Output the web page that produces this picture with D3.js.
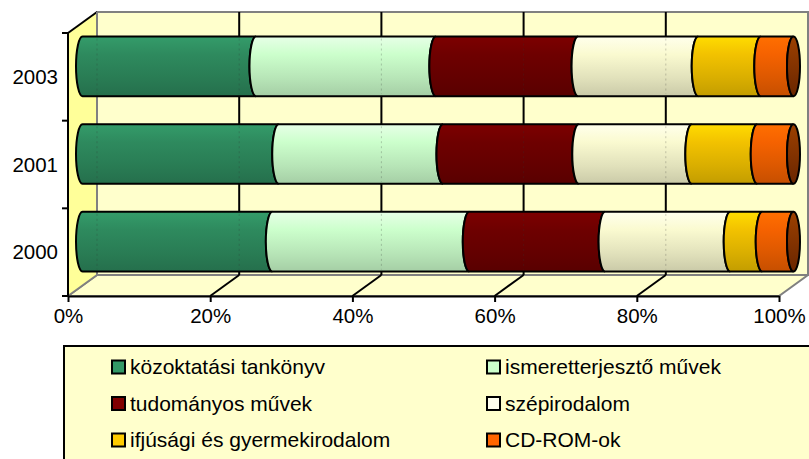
<!DOCTYPE html>
<html>
<head>
<meta charset="utf-8">
<script src="https://cdn.jsdelivr.net/npm/d3@7"></script>
<style>
  body { margin: 0; background: #fff; }
  text { font-family: "Liberation Sans", Arial, sans-serif; }
</style>
</head>
<body>
<div id="chart"></div>
<script>
// data (shares in %)
var years = ["2003", "2001", "2000"];
var series = ["közoktatási tankönyv", "ismeretterjesztő művek", "tudományos művek",
              "szépirodalom", "ifjúsági és gyermekirodalom", "CD-ROM-ok"];
var v2003 = [24.4, 25.3, 20.0, 16.9, 8.8, 4.6];
var v2001 = [27.6, 23.1, 19.1, 15.9, 9.2, 5.1];
var v2000 = [26.7, 27.7, 19.1, 17.6, 4.5, 4.4];
var tickValues = [0, 0.2, 0.4, 0.6, 0.8, 1];

var swatchColors = ["#339966", "#ccffcc", "#800000", "#ffffee", "#ffcc00", "#ff6600"];
var barColors = ["#2e8a5e", "#ccffcc", "#6e0000", "#fafad0", "#f2c200", "#f56200"];

var width = 809, height = 459;
var dx = 29, dy = -21; // depth of the 3d box

var svg = d3.select("#chart").append("svg")
    .attr("width", width)
    .attr("height", height);

var defs = svg.append("defs");

var x = d3.scaleLinear().domain([0, 1]).range([68, 779]);
var y = d3.scaleBand().domain(years).range([33, 296]);
var xb = function(v) { return x(v) + dx; };
var xm = function(v) { return x(v) + dx / 2; };

var rows = years.map(function(yr, i) {
    var vals = [v2003, v2001, v2000][i];
    var r = { year: yr };
    series.forEach(function(s, j) { r[s] = vals[j] / 100; });
    return r;
});
var stacked = d3.stack().keys(series)(rows);

// gradients for the cylinders
barColors.forEach(function(c, i) {
    var g = defs.append("linearGradient").attr("id", "grad" + i)
        .attr("x1", 0).attr("y1", 0).attr("x2", 0).attr("y2", 1);
    var base = d3.color(c);
    g.append("stop").attr("offset", "0%").attr("stop-color", base.brighter(0.35));
    g.append("stop").attr("offset", "30%").attr("stop-color", base);
    g.append("stop").attr("offset", "70%").attr("stop-color", base.darker(0.3));
    g.append("stop").attr("offset", "100%").attr("stop-color", base.darker(0.6));
});
var capGrad = defs.append("linearGradient").attr("id", "capgrad")
    .attr("x1", 0).attr("y1", 0).attr("x2", 0).attr("y2", 1);
capGrad.append("stop").attr("offset", "0%").attr("stop-color", "#9c4000");
capGrad.append("stop").attr("offset", "100%").attr("stop-color", "#6a2600");

var top0 = y.range()[0], bot0 = y.range()[1];

// back wall
svg.append("rect")
    .attr("x", xb(0)).attr("y", top0 + dy)
    .attr("width", xb(1) - xb(0)).attr("height", bot0 - top0)
    .attr("fill", "#ffffcc")
    .attr("stroke", "#808080").attr("stroke-width", 2);

// floor
svg.append("path")
    .attr("d", "M" + x(0) + "," + bot0 + "L" + x(1) + "," + bot0 +
        "L" + xb(1) + "," + (bot0 + dy) + "L" + xb(0) + "," + (bot0 + dy) + "Z")
    .attr("fill", "#ffffcc")
    .attr("stroke", "#808080").attr("stroke-width", 2);

// left wall
svg.append("path")
    .attr("d", "M" + x(0) + "," + top0 + "L" + xb(0) + "," + (top0 + dy) +
        "L" + xb(0) + "," + (bot0 + dy) + "L" + x(0) + "," + bot0 + "Z")
    .attr("fill", "#ffff99")
    .attr("stroke", "none");
svg.append("line")
    .attr("x1", x(0)).attr("y1", top0).attr("x2", xb(0)).attr("y2", top0 + dy)
    .attr("stroke", "#000").attr("stroke-width", 2);
svg.append("line")
    .attr("x1", xb(0)).attr("y1", top0 + dy).attr("x2", xb(0)).attr("y2", bot0 + dy)
    .attr("stroke", "#808080").attr("stroke-width", 2);
svg.append("line")
    .attr("x1", x(0)).attr("y1", bot0).attr("x2", xb(0)).attr("y2", bot0 + dy)
    .attr("stroke", "#808080").attr("stroke-width", 2);

// gridlines on back wall and floor
var inner = tickValues.slice(1, -1);
svg.selectAll(".grid").data(inner).enter().append("line")
    .attr("class", "grid")
    .attr("x1", xb).attr("x2", xb)
    .attr("y1", top0 + dy).attr("y2", bot0 + dy)
    .attr("stroke", "#000").attr("stroke-width", 2);
svg.selectAll(".fgrid").data(tickValues.slice(1, -1)).enter().append("line")
    .attr("class", "fgrid")
    .attr("x1", x).attr("y1", bot0)
    .attr("x2", xb).attr("y2", bot0 + dy)
    .attr("stroke", "#000").attr("stroke-width", 2);

// cylinders
var h = y.bandwidth() * 0.34;
var rx = 6.5;
function segPath(a, b, yc) {
    var x0 = xm(a), x1 = xm(b);
    return "M" + x0 + "," + (yc - h) + "L" + x1 + "," + (yc - h) +
        "A" + rx + "," + h + " 0 0 0 " + x1 + "," + (yc + h) +
        "L" + x0 + "," + (yc + h) +
        "A" + rx + "," + h + " 0 0 1 " + x0 + "," + (yc - h) + "Z";
}

stacked.forEach(function(layer, i) {
    svg.append("g").selectAll("path")
        .data(layer).enter().append("path")
        .attr("d", function(d) {
            var yc = y(d.data.year) + y.bandwidth() / 2 + dy / 2;
            return segPath(d[0], d[1], yc);
        })
        .attr("fill", "url(#grad" + i + ")")
        .attr("stroke", "#000").attr("stroke-width", 2);
});

// end caps
svg.selectAll(".cap").data(years).enter().append("ellipse")
    .attr("class", "cap")
    .attr("cx", xm(1))
    .attr("cy", function(d) { return y(d) + y.bandwidth() / 2 + dy / 2; })
    .attr("rx", rx).attr("ry", h)
    .attr("fill", "url(#capgrad)")
    .attr("stroke", "#000").attr("stroke-width", 2);

// faint gridlines showing through the bars
years.forEach(function(yr) {
    var yc = y(yr) + y.bandwidth() / 2 + dy / 2;
    svg.selectAll(null).data(tickValues.slice(0, -1)).enter().append("line")
        .attr("x1", xb).attr("x2", xb)
        .attr("y1", yc - h + 2).attr("y2", yc + h - 2)
        .attr("stroke", "#333").attr("stroke-opacity", 0.25)
        .attr("stroke-dasharray", "2,3");
});

// x axis
var xAxis = svg.append("g")
    .attr("transform", "translate(0," + bot0 + ")")
    .call(d3.axisBottom(x).tickValues(tickValues).tickFormat(d3.format(".0%"))
        .tickSize(6).tickSizeOuter(0).tickPadding(6));
xAxis.select(".domain").attr("stroke-width", 2);
xAxis.selectAll(".tick line").attr("stroke-width", 2);
xAxis.selectAll("text").attr("font-size", 20.5).attr("fill", "#000")
    .style("font-family", "'Liberation Sans', Arial, sans-serif");

// y axis
svg.append("line")
    .attr("x1", x(0)).attr("x2", x(0)).attr("y1", top0).attr("y2", bot0)
    .attr("stroke", "#000").attr("stroke-width", 2);
var bounds = years.map(function(d) { return y(d); }).concat([bot0]);
svg.selectAll(".ytick").data(bounds).enter().append("line")
    .attr("class", "ytick")
    .attr("x1", x(0) - 6).attr("x2", x(0))
    .attr("y1", function(d) { return d; }).attr("y2", function(d) { return d; })
    .attr("stroke", "#000").attr("stroke-width", 2);
svg.selectAll(".ylab").data(years).enter().append("text")
    .attr("class", "ylab")
    .attr("x", x(0) - 10)
    .attr("y", function(d) { return y(d) + y.bandwidth() / 2; })
    .attr("dy", "0.35em")
    .attr("text-anchor", "end")
    .attr("font-size", 20.5)
    .text(function(d) { return d; });

// legend
var lg = svg.append("g");
lg.append("rect")
    .attr("x", 64).attr("y", 346)
    .attr("width", 800).attr("height", 150)
    .attr("fill", "#ffffcc")
    .attr("stroke", "#000").attr("stroke-width", 2);
var items = lg.selectAll(".item").data(series).enter().append("g")
    .attr("class", "item")
    .attr("transform", function(d, i) {
        var col = i % 2, row = Math.floor(i / 2);
        return "translate(" + (col === 0 ? 112 : 487) + "," + (367 + row * 36.5) + ")";
    });
items.append("rect")
    .attr("x", 0).attr("y", -6.5)
    .attr("width", 13).attr("height", 13)
    .attr("fill", function(d, i) { return swatchColors[i]; })
    .attr("stroke", "#000").attr("stroke-width", 2);
items.append("text")
    .attr("x", 18).attr("y", 0).attr("dy", "0.35em")
    .attr("font-size", 21)
    .text(function(d) { return d; });
</script>
</body>
</html>
